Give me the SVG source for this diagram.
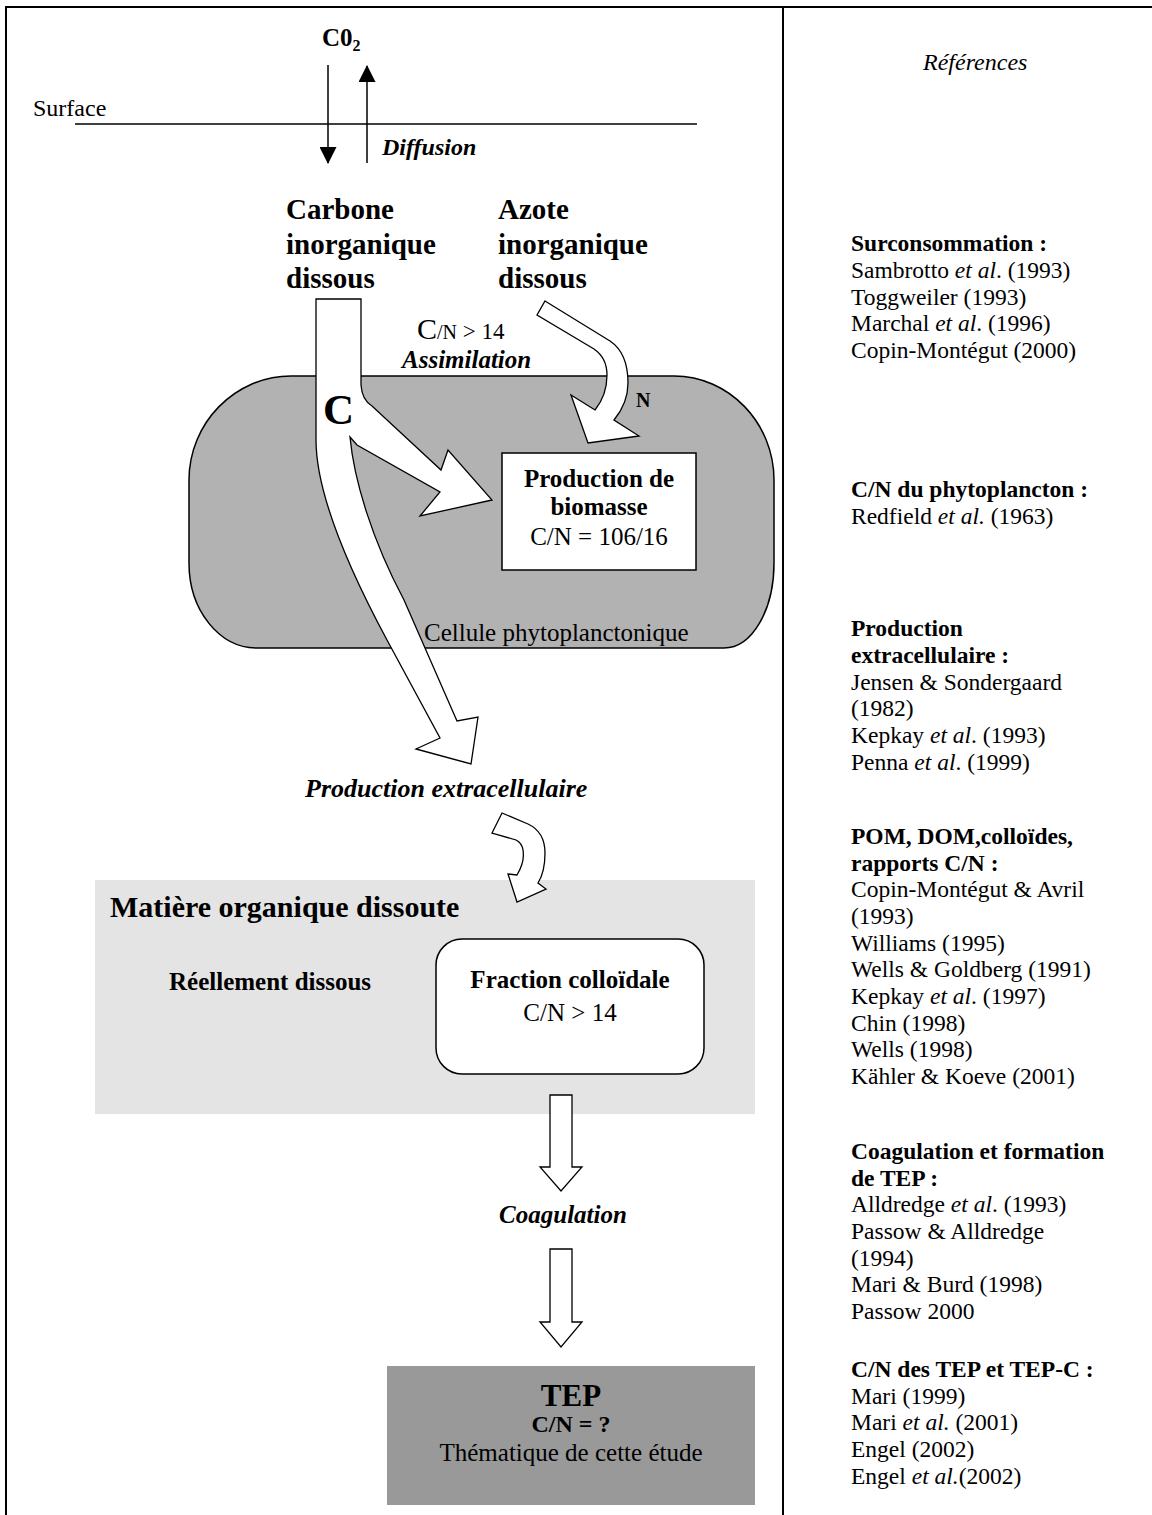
<svg xmlns="http://www.w3.org/2000/svg" width="1152" height="1515" viewBox="0 0 1152 1515">
<defs>
<marker id="ah" markerUnits="userSpaceOnUse" markerWidth="17" markerHeight="17" viewBox="0 0 16 16" refX="15" refY="8" orient="auto"><path d="M0,0 L16,8 L0,16 Z" fill="#000"/></marker>
</defs>
<style>
text{font-family:"Liberation Serif","Times New Roman",serif;fill:#000}
.b{font-weight:bold}
.i{font-style:italic}
.ref{font-size:23.5px}
.lbl{font-size:25px}
.mid{text-anchor:middle}
.flow{fill:#fff;stroke:#000;stroke-width:1.3;stroke-linejoin:miter}
.line{stroke:#000;stroke-width:1.5;fill:none}
</style>
<rect width="1152" height="1515" fill="#fff"/>
<g id="frame" stroke="#000" stroke-width="2" fill="none">
<path d="M6,1515 V7 H1152 M783,7 V1515"/>
</g>

<g id="surface">
<path class="line" d="M75,124 H697"/>
<text x="33" y="116" style="font-size:24px">Surface</text>
</g>

<g id="co2">
<text x="322" y="46" class="b" style="font-size:25px">C0<tspan style="font-size:16px" dy="5">2</tspan></text>
</g>

<g id="cell">
<path d="M291,376 L674,376 C729,376 774,423 774,480 L774,563 C774,610 752,648 724,648 L257,648 C219,648 189,610 189,563 L189,480 C189,423 235,376 291,376 Z" fill="#b2b2b2" stroke="#000" stroke-width="1.5"/>
<text x="424" y="641" class="lbl">Cellule phytoplanctonique</text>
</g>

<g id="dom">
<rect x="95" y="880" width="660" height="234" fill="#e4e4e4"/>
<text x="110" y="917" class="b" style="font-size:30px">Matière organique dissoute</text>
<text x="169" y="990" class="lbl b">Réellement dissous</text>
</g>

<g id="connectors">
<path class="line" d="M328,65 V163" marker-end="url(#ah)"/>
<path class="line" d="M367,163 V66" marker-end="url(#ah)"/>
<path class="flow" d="M316,299 L361,299 L361,385 Q362,400 372,406 L441,470 L448,450 L492,500 L420,516 L440,492 L357,445 L350,437 C354,480 372,540 404,600 L457,721 L478,717 L471,764 L416,749 L440,738 L387,640 Q316,508 316,440 Z"/>
<path class="flow" d="M545,301 L610,341 Q628,353 628,383 Q628,403 614,420 L639,436 L588,443 L571,395 L595,410 Q607,395 607,375 Q607,358 594,349 L537,315 Z"/>
<path class="flow" d="M502,813 L528,824 Q545,832 545,853 Q545,872 538,883 L546,889 L517,902 L508,874 L517,875 Q525,862 523,850 Q522,843 516,840 L492,833 Z"/>
<path class="flow" d="M550,1095 L572,1095 L572,1167 L582,1167 L561,1191 L540,1167 L550,1167 Z"/>
<path class="flow" d="M550,1249 L572,1249 L572,1322 L582,1322 L561,1347 L540,1322 L550,1322 Z"/>
</g>

<g id="labels">
<text x="382" y="155" class="b i" style="font-size:24px">Diffusion</text>
<text x="286" y="219" class="b" style="font-size:29px">Carbone</text>
<text x="286" y="254" class="b" style="font-size:29px">inorganique</text>
<text x="286" y="288" class="b" style="font-size:29px">dissous</text>
<text x="498" y="219" class="b" style="font-size:29px">Azote</text>
<text x="498" y="254" class="b" style="font-size:29px">inorganique</text>
<text x="498" y="288" class="b" style="font-size:29px">dissous</text>
<text x="417" y="339" style="font-size:30px">C<tspan style="font-size:20px">/N</tspan><tspan style="font-size:23px"> &gt; 14</tspan></text>
<text x="402" y="368" class="b i lbl">Assimilation</text>
<text x="323" y="424" class="b" style="font-size:43px">C</text>
<text x="636" y="407" class="b" style="font-size:20px">N</text>
<text x="305" y="797" class="b i" style="font-size:26px">Production extracellulaire</text>
<text x="563" y="1223" class="b i lbl mid">Coagulation</text>
</g>

<g id="biomasse">
<rect x="502" y="453" width="194" height="117" fill="#fff" stroke="#000" stroke-width="1.5"/>
<text x="599" y="487" class="lbl b mid">Production de</text>
<text x="599" y="515" class="lbl b mid">biomasse</text>
<text x="599" y="545" class="lbl mid">C/N = 106/16</text>
</g>

<g id="colloidale">
<rect x="436" y="939" width="268" height="135" rx="26" ry="26" fill="#fff" stroke="#000" stroke-width="1.5"/>
<text x="570" y="988" class="lbl b mid">Fraction colloïdale</text>
<text x="570" y="1021" class="lbl mid">C/N &gt; 14</text>
</g>

<g id="tep">
<rect x="387" y="1366" width="368" height="139" fill="#999999"/>
<text x="571" y="1406" class="b mid" style="font-size:31px">TEP</text>
<text x="571" y="1432" class="b mid" style="font-size:24px">C/N = ?</text>
<text x="571" y="1461" class="lbl mid">Thématique de cette étude</text>
</g>

<g id="references" class="ref">
<text x="923" y="70" class="i" style="font-size:24px">Références</text>
<text x="851" y="251" class="b">Surconsommation :</text>
<text x="851" y="278">Sambrotto <tspan class="i">et al</tspan>. (1993)</text>
<text x="851" y="305">Toggweiler (1993)</text>
<text x="851" y="331">Marchal <tspan class="i">et al</tspan>. (1996)</text>
<text x="851" y="358">Copin-Montégut (2000)</text>
<text x="851" y="497" class="b">C/N du phytoplancton :</text>
<text x="851" y="524">Redfield <tspan class="i">et al.</tspan> (1963)</text>
<text x="851" y="636" class="b">Production</text>
<text x="851" y="663" class="b">extracellulaire :</text>
<text x="851" y="690">Jensen &amp; Sondergaard</text>
<text x="851" y="716">(1982)</text>
<text x="851" y="743">Kepkay <tspan class="i">et al</tspan>. (1993)</text>
<text x="851" y="770">Penna <tspan class="i">et al</tspan>. (1999)</text>
<text x="851" y="844" class="b">POM, DOM,colloïdes,</text>
<text x="851" y="871" class="b">rapports C/N :</text>
<text x="851" y="897">Copin-Montégut &amp; Avril</text>
<text x="851" y="924">(1993)</text>
<text x="851" y="951">Williams (1995)</text>
<text x="851" y="977">Wells &amp; Goldberg (1991)</text>
<text x="851" y="1004">Kepkay <tspan class="i">et al</tspan>. (1997)</text>
<text x="851" y="1031">Chin (1998)</text>
<text x="851" y="1057">Wells (1998)</text>
<text x="851" y="1084">Kähler &amp; Koeve (2001)</text>
<text x="851" y="1159" class="b">Coagulation et formation</text>
<text x="851" y="1186" class="b">de TEP :</text>
<text x="851" y="1212">Alldredge <tspan class="i">et al</tspan>. (1993)</text>
<text x="851" y="1239">Passow &amp; Alldredge</text>
<text x="851" y="1266">(1994)</text>
<text x="851" y="1292">Mari &amp; Burd (1998)</text>
<text x="851" y="1319">Passow 2000</text>
<text x="851" y="1377" class="b">C/N des TEP et TEP-C :</text>
<text x="851" y="1404">Mari (1999)</text>
<text x="851" y="1430">Mari <tspan class="i">et al.</tspan> (2001)</text>
<text x="851" y="1457">Engel (2002)</text>
<text x="851" y="1484">Engel <tspan class="i">et al.</tspan>(2002)</text>
</g>
</svg>
